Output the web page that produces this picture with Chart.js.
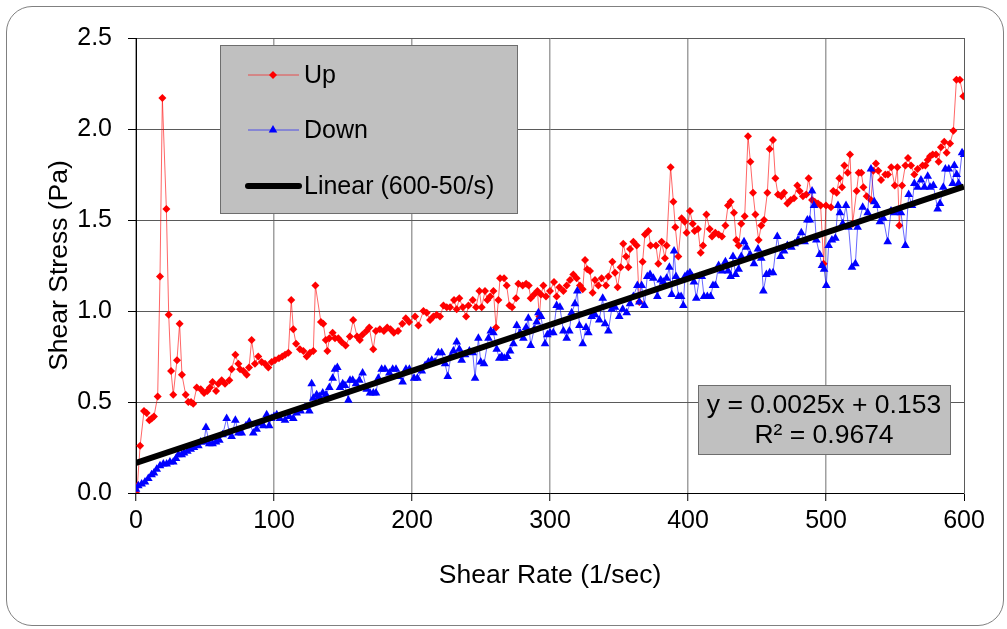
<!DOCTYPE html>
<html>
<head>
<meta charset="utf-8">
<title>Shear Stress vs Shear Rate</title>
<script src="https://cdn.jsdelivr.net/npm/chart.js@4.4.1/dist/chart.umd.min.js"></script>
<style>
	html, body { margin: 0; padding: 0; background: #ffffff; }
	#wrap { position: relative; width: 1007px; height: 629px; }
	#frame { position: absolute; left: 6px; top: 6px; width: 996px; height: 618px; border: 1px solid #808080; border-radius: 26px; pointer-events: none; }
</style>
</head>
<body>
<div id="wrap">
	<canvas id="rheoChart" width="1007" height="629"></canvas>
	<div id="frame"></div>
</div>
<script>
// Up curve [shear rate, shear stress]
let upData = [
	[0,0.00],[1,0.04],[3,0.26],[5.8,0.45],[7.7,0.44],[9.7,0.40],[11.3,0.41],[13,0.42],[15.7,0.53],[17.4,1.19],
	[19.1,2.17],[22,1.56],[23.7,0.98],[25.4,0.67],[27,0.54],[29.7,0.73],[31.6,0.93],[33.3,0.65],[36,0.54],[37.9,0.50],
	[39.9,0.50],[41.5,0.49],[44,0.58],[46.9,0.57],[49.3,0.55],[51.7,0.56],[53.6,0.58],[55.5,0.61],[58,0.56],[59.7,0.60],
	[62.1,0.62],[64.5,0.60],[67.6,0.62],[69.3,0.68],[72,0.76],[74.2,0.71],[75.4,0.68],[77.8,0.67],[80.2,0.65],[81.9,0.69],
	[83.8,0.84],[86.2,0.71],[88.6,0.75],[91.1,0.72],[93.5,0.71],[95.9,0.69],[98.3,0.72],[100.7,0.73],[103.6,0.74],[106,0.75],
	[108,0.76],[110.4,0.77],[112.5,1.06],[114,0.90],[116,0.82],[118.8,0.79],[121.3,0.78],[123.7,0.75],[126.1,0.77],[128.5,0.78],
	[130,1.14],[134,0.94],[135.7,0.93],[137.5,0.84],[138.7,0.78],[140.1,0.85],[142.5,0.88],[144.2,0.85],[146.6,0.85],[149,0.83],
	[151.9,0.81],[155,0.86],[157.4,0.95],[160.2,0.86],[162.2,0.84],[164.1,0.87],[167,0.89],[169,0.91],[171.9,0.79],[173.8,0.89],
	[176.7,0.90],[179.6,0.89],[182,0.91],[184.4,0.90],[186.8,0.88],[189.9,0.89],[193,0.93],[195.5,0.96],[197.9,0.94],[202.2,0.97],
	[204.6,0.92],[208.3,1.00],[210.7,0.99],[213.1,0.95],[215.5,0.97],[217.9,0.98],[220.3,0.97],[222.8,1.03],[225.2,1.02],[227.6,1.02],
	[230.5,1.06],[232.4,1.01],[234.3,1.07],[236.8,1.02],[239.2,0.97],[240.9,1.03],[244,1.06],[246.4,1.02],[248.8,1.11],[250.5,1.02],
	[252.9,1.11],[254.6,1.06],[256.6,1.08],[259,1.11],[260.9,0.91],[262.6,1.06],[263.8,1.18],[266.7,1.18],[268.6,1.14],[270.6,1.03],
	[272.5,1.02],[275.4,1.07],[277.1,1.15],[280.2,1.14],[282.7,1.15],[284.6,1.14],[286,1.07],[288.5,1.09],[290.9,1.11],[292.3,0.97],
	[293.5,1.09],[295.2,1.14],[297.1,1.08],[300,1.11],[302.9,1.16],[304.8,1.08],[306.8,1.13],[309.7,1.11],[312.1,1.14],[314.5,1.17],
	[316.9,1.20],[319.3,1.18],[321.7,1.14],[323.7,1.12],[325.4,1.28],[327,1.23],[329,1.22],[330.9,1.10],[332.6,1.17],[335,1.14],
	[337.4,1.18],[340.6,1.14],[342.3,1.19],[345.2,1.27],[347.1,1.21],[349,1.13],[351.2,1.24],[353.1,1.37],[355.1,1.30],[356.8,1.24],
	[358,1.34],[360.4,1.38],[362.8,1.36],[364.7,1.05],[367.1,1.27],[368.8,1.42],[371.3,1.44],[372.9,1.36],[376.8,1.36],[378.5,1.26],
	[380.9,1.38],[383.3,1.29],[384.5,1.36],[387.4,1.79],[389.4,1.60],[390.8,1.46],[393,1.30],[395.4,1.51],[397.6,1.49],[399,1.43],
	[401.4,1.55],[403.4,1.48],[404.8,1.44],[407.2,1.45],[409.2,1.32],[410.9,1.36],[413.3,1.53],[415.7,1.45],[417.4,1.41],[419.8,1.43],
	[422.2,1.42],[424.6,1.41],[427.1,1.47],[429,1.58],[430.9,1.60],[433.3,1.54],[435,1.39],[436.7,1.36],[438.6,1.48],[441.1,1.52],
	[443.5,1.96],[445.2,1.82],[447.1,1.65],[448.8,1.53],[451.2,1.39],[453.1,1.47],[455.1,1.50],[457.5,1.65],[459.2,1.89],[461.6,1.94],
	[463.3,1.73],[465.2,1.64],[467.6,1.63],[469.6,1.65],[472,1.59],[474.4,1.61],[476.8,1.62],[479.2,1.69],[480.9,1.66],[483.3,1.63],
	[485.7,1.64],[487.4,1.73],[489.9,1.61],[491.8,1.60],[494.2,1.59],[496.1,1.58],[498.3,1.26],[500,1.58],[503.6,1.57],[505.3,1.66],
	[507.7,1.65],[509.7,1.73],[511.6,1.68],[513.3,1.80],[515.7,1.76],[517.4,1.86],[519.3,1.48],[522.2,1.66],[523.7,1.76],[525.6,1.76],
	[527.1,1.68],[529.5,1.63],[532.6,1.61],[534.3,1.77],[536.2,1.81],[537.9,1.77],[539.9,1.72],[543,1.75],[544.9,1.75],[547.3,1.79],
	[549.8,1.69],[551.7,1.79],[553.1,1.47],[555.1,1.69],[557.5,1.80],[559.4,1.84],[561.6,1.80],[564,1.75],[566.4,1.78],[570,1.80],
	[572,1.80],[573.7,1.83],[575.4,1.85],[577.3,1.86],[579.7,1.86],[581.6,1.82],[583.3,1.90],[585.7,1.93],[587.4,1.87],[589.9,1.92],
	[592.3,1.99],[594.5,2.27],[597,2.27],[599.5,2.18]
];

// Down curve [shear rate, shear stress]
let downData = [
	[0,0.02],[1.7,0.04],[4.1,0.05],[6.5,0.06],[8.9,0.08],[11.3,0.10],[13,0.11],[15,0.13],[17.4,0.15],[19.8,0.16],
	[22.2,0.16],[24.6,0.17],[27,0.17],[29,0.19],[30.7,0.21],[33.1,0.21],[34.8,0.22],[37.2,0.23],[39.6,0.24],[42,0.25],
	[45.2,0.26],[46.9,0.28],[49.3,0.28],[50.7,0.36],[53.1,0.27],[55.5,0.27],[58,0.28],[60.4,0.29],[62.8,0.32],[65.7,0.41],
	[67.6,0.33],[69.3,0.31],[72,0.40],[74.2,0.33],[76.6,0.33],[79.7,0.37],[82.1,0.39],[85,0.33],[87.4,0.35],[89.8,0.38],
	[92.3,0.37],[94.7,0.43],[96.5,0.37],[98,0.41],[100,0.42],[102,0.43],[104.3,0.41],[108,0.40],[111.1,0.42],[114,0.41],
	[116.4,0.44],[119.3,0.45],[122.5,0.47],[125.6,0.45],[127.3,0.60],[128.5,0.52],[130.9,0.54],[132.8,0.53],[135.3,0.55],[137.7,0.54],
	[140.1,0.58],[142.5,0.63],[144.2,0.68],[145.9,0.69],[147.8,0.58],[149.8,0.60],[151.4,0.59],[153.9,0.51],[155.1,0.62],[157,0.62],
	[159.4,0.60],[161.8,0.62],[164.2,0.66],[167.2,0.57],[169.6,0.55],[172,0.55],[173.9,0.55],[175.6,0.63],[178,0.68],[180.4,0.68],
	[183.6,0.66],[186,0.68],[188.4,0.68],[190.1,0.64],[193.2,0.61],[195.6,0.68],[198.1,0.68],[201.5,0.63],[203.9,0.63],[207.1,0.67],
	[209.5,0.70],[211.9,0.72],[214.3,0.73],[216.7,0.72],[219.1,0.77],[221.5,0.77],[224,0.71],[225.9,0.64],[228.1,0.75],[230,0.78],
	[232.4,0.83],[234.3,0.79],[236,0.73],[238.5,0.76],[241.6,0.78],[244,0.77],[245.7,0.63],[248.1,0.85],[249.8,0.72],[252.2,0.71],
	[255.4,0.85],[257.1,0.89],[259,0.88],[261.4,0.79],[263.3,0.74],[265,0.75],[266.9,0.74],[269.1,0.75],[271.1,0.78],[273.5,0.82],
	[275.9,0.92],[278.3,0.88],[280.7,0.85],[282.7,0.91],[284.3,0.96],[286,0.81],[288.5,0.90],[290.4,0.94],[291.6,0.99],[293.5,0.97],
	[296.4,0.82],[298.1,0.87],[300,0.88],[302.4,0.88],[304.8,1.03],[307.2,1.02],[309.7,0.89],[312.1,0.85],[314,0.89],[315.7,0.99],
	[318.1,1.04],[319.8,1.11],[321.3,0.92],[323.7,0.82],[326.1,0.91],[327.8,0.88],[330.2,0.97],[332.6,0.98],[335.7,0.95],[338.2,1.07],
	[339.9,0.93],[342.3,0.89],[344.7,1.01],[347.1,1.02],[350.2,0.97],[352.7,1.01],[355.6,0.99],[358,1.04],[360.4,1.08],[363.3,1.14],
	[364.7,1.05],[366.4,1.14],[368.4,1.03],[370.5,1.19],[372.5,1.20],[374.9,1.18],[377.8,1.08],[380.2,1.17],[382.1,1.16],[384.5,1.18],
	[386.5,1.24],[388.2,1.09],[389.9,1.33],[391.3,1.19],[393.2,1.08],[395,1.08],[396.6,1.03],[397.8,1.19],[399.5,1.20],[401.4,1.21],
	[403,1.19],[404.3,1.16],[406,1.07],[408.5,1.19],[410,1.19],[411.6,1.08],[414,1.08],[416.4,1.08],[418.1,1.14],[419.8,1.14],
	[422.2,1.25],[424.6,1.22],[427.1,1.27],[429,1.22],[430.9,1.19],[432.6,1.30],[434.5,1.20],[436.7,1.23],[438.6,1.30],[440.6,1.38],
	[442.3,1.35],[445,1.31],[447.8,1.26],[450.7,1.34],[453.1,1.29],[454.6,1.11],[456.8,1.20],[459.2,1.21],[461.6,1.21],[464.7,1.41],
	[467.1,1.30],[469.6,1.33],[472,1.36],[474.9,1.35],[477.3,1.37],[479.7,1.39],[482.1,1.43],[484.5,1.38],[486.5,1.50],[488.2,1.50],
	[489.9,1.66],[491.3,1.58],[493,1.39],[495.4,1.31],[497.1,1.25],[498.6,1.23],[500.2,1.14],[501.9,1.36],[504.3,1.39],[506.8,1.40],
	[508.7,1.58],[510.1,1.54],[512.1,1.48],[514.5,1.58],[516.4,1.46],[518.8,1.24],[521.3,1.26],[522.9,1.46],[526.6,1.57],[530.2,1.54],
	[532.6,1.78],[535,1.60],[536.7,1.58],[539.1,1.49],[541.5,1.51],[544.7,1.38],[547.1,1.55],[549.5,1.54],[551.9,1.55],[554.3,1.54],
	[557.5,1.36],[559.9,1.64],[562.3,1.58],[564,1.70],[566.4,1.68],[568.8,1.72],[571.3,1.68],[573.7,1.74],[575.4,1.68],[577.8,1.69],
	[580.9,1.56],[582.6,1.59],[585,1.68],[586.5,1.78],[589,1.78],[591.8,1.70],[593,1.80],[594.7,1.75],[596.1,1.70],[598.6,1.87],
	[600,1.86]
];

// linear trend (600-50/s), ends as drawn
let trendX = [0, 600];
let trendY = [0.165, 1.683];

let xTicks = [0, 100, 200, 300, 400, 500, 600];
let yTicks = [0, 0.5, 1.0, 1.5, 2.0, 2.5];
let eqLines = ['y = 0.0025x + 0.153', 'R\u00B2 = 0.9674'];

let FONT = "'Liberation Sans', Arial, sans-serif";

function toPoints(list) {
	return list.map(function(item) {
		return { x: item[0], y: item[1] };
	});
}

// 범례 마커
function drawMarker(ctx, style, x, y, color) {
	ctx.fillStyle = color;
	ctx.beginPath();
	if (style === 'rectRot') {
		ctx.moveTo(x - 4, y);
		ctx.lineTo(x, y - 4);
		ctx.lineTo(x + 4, y);
		ctx.lineTo(x, y + 4);
	} else {
		ctx.moveTo(x, y - 5);
		ctx.lineTo(x + 4.3, y + 2.5);
		ctx.lineTo(x - 4.3, y + 2.5);
	}
	ctx.closePath();
	ctx.fill();
}

let boxPlugin = {
	id: 'boxPlugin',
	afterDraw: function(chart) {
		let ctx = chart.ctx;
		let sets = chart.data.datasets;
		ctx.save();

		// legend box
		ctx.fillStyle = '#c0c0c0';
		ctx.fillRect(220, 45, 297, 168);
		ctx.strokeStyle = '#6e6e6e';
		ctx.lineWidth = 1;
		ctx.strokeRect(220.5, 45.5, 297, 168);

		ctx.font = '25px ' + FONT;
		ctx.textBaseline = 'middle';
		ctx.textAlign = 'left';
		let rowY = [75, 130, 186];
		for (let i = 0; i < sets.length; i++) {
			let y = rowY[i];
			ctx.strokeStyle = sets[i].borderColor;
			ctx.lineWidth = sets[i].borderWidth;
			ctx.lineCap = i === 2 ? 'round' : 'butt';
			ctx.beginPath();
			ctx.moveTo(248, y);
			ctx.lineTo(299, y);
			ctx.stroke();
			if (i < 2) {
				drawMarker(ctx, sets[i].pointStyle, 273, y, sets[i].pointBackgroundColor);
			}
			ctx.fillStyle = '#000000';
			ctx.fillText(sets[i].label, 304, y + 1);
		}

		// equation box
		ctx.fillStyle = '#c0c0c0';
		ctx.fillRect(698, 385, 252, 69);
		ctx.strokeStyle = '#6e6e6e';
		ctx.lineWidth = 1;
		ctx.strokeRect(698.5, 385.5, 252, 69);
		ctx.fillStyle = '#000000';
		ctx.textAlign = 'center';
		ctx.font = '26.5px ' + FONT;
		ctx.fillText(eqLines[0], 824, 406);
		ctx.fillText(eqLines[1], 824, 436);

		ctx.restore();
	}
};

function drawRheoChart() {
	var ctx = document.getElementById('rheoChart').getContext('2d');
	var rheoChart = new Chart(ctx, {
		type: 'line',
		data: {
			datasets: [{
				label: 'Up',
				data: toPoints(upData),
				borderColor: 'rgba(255, 0, 0, 0.6)',
				borderWidth: 1,
				pointStyle: 'rectRot',
				pointRadius: 4,
				pointBorderWidth: 0,
				pointBackgroundColor: '#ff0000',
				tension: 0,
				order: 3
			}, {
				label: 'Down',
				data: toPoints(downData),
				borderColor: 'rgba(0, 0, 255, 0.6)',
				borderWidth: 1,
				pointStyle: 'triangle',
				pointRadius: 5,
				pointBorderWidth: 0,
				pointBackgroundColor: '#0000ff',
				tension: 0,
				order: 2
			}, {
				label: 'Linear (600-50/s)',
				data: trendX.map(function(x, i) { return { x: x, y: trendY[i] }; }),
				borderColor: '#000000',
				borderWidth: 6,
				pointRadius: 0,
				order: 1
			}]
		},
		options: {
			responsive: false,
			animation: false,
			devicePixelRatio: 1,
			layout: {
				padding: { top: 38, right: 43, left: 0, bottom: 0 }
			},
			plugins: {
				legend: { display: false },
				tooltip: { enabled: false }
			},
			scales: {
				x: {
					type: 'linear',
					min: 0,
					max: 600,
					afterBuildTicks: function(scale) {
						scale.ticks = xTicks.map(function(v) { return { value: v }; });
					},
					ticks: {
						color: '#000000',
						font: { family: FONT, size: 25 },
						padding: 5,
						maxRotation: 0,
						callback: function(v) { return String(v); }
					},
					grid: {
						color: function(c) { return c.tick && c.tick.value === 600 ? '#5a5a5a' : '#a0a0a0'; },
						lineWidth: function(c) { return c.tick && c.tick.value === 600 ? 1 : 1.5; },
						tickLength: 8,
						tickColor: '#000000',
						tickWidth: 1
					},
					border: { color: '#000000', width: 1 },
					title: {
						display: true,
						text: 'Shear Rate (1/sec)',
						color: '#000000',
						font: { family: FONT, size: 26.5 },
						padding: { top: 0, bottom: 37 }
					},
					afterFit: function(scale) { scale.height = 136; }
				},
				y: {
					min: 0,
					max: 2.5,
					afterBuildTicks: function(scale) {
						scale.ticks = yTicks.map(function(v) { return { value: v }; });
					},
					ticks: {
						color: '#000000',
						font: { family: FONT, size: 25 },
						padding: 16,
						callback: function(v) { return Number(v).toFixed(1); }
					},
					grid: {
						color: '#5a5a5a',
						lineWidth: 1,
						tickLength: 8,
						tickColor: '#000000',
						tickWidth: 1
					},
					border: { color: '#000000', width: 1 },
					title: {
						display: true,
						text: 'Shear Stress (Pa)',
						color: '#000000',
						font: { family: FONT, size: 26.5 },
						padding: { top: 44, bottom: 0 }
					},
					afterFit: function(scale) { scale.width = 136; }
				}
			}
		},
		plugins: [boxPlugin]
	});
}

drawRheoChart();
</script>
</body>
</html>
